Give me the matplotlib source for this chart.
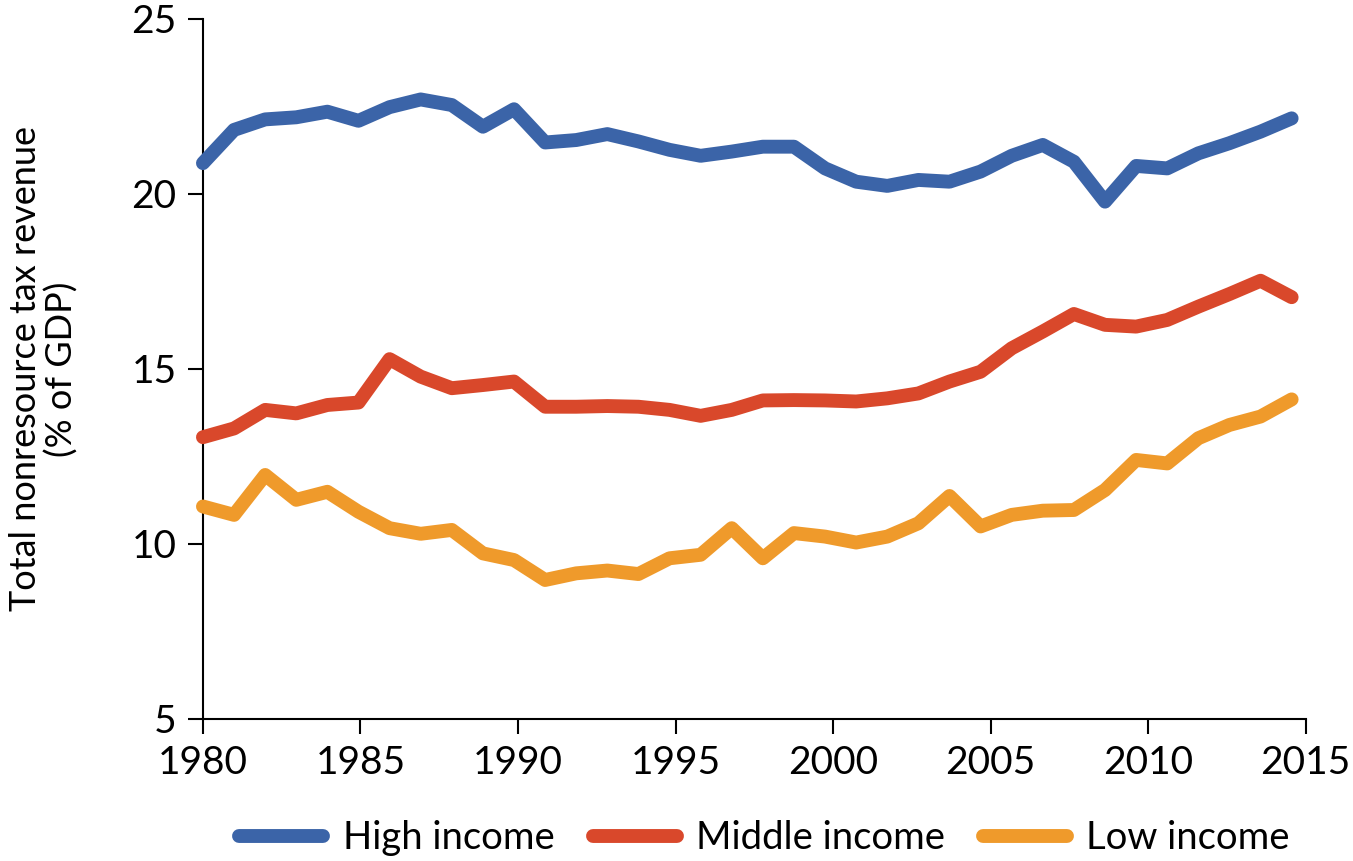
import matplotlib.pyplot as plt
import numpy as np

# Total nonresource tax revenue (% of GDP), 1980-2015
years = list(range(1980, 2016))
high_income = [20.88, 21.83, 22.13, 22.19, 22.35, 22.09, 22.48, 22.70, 22.54, 21.92,
               22.42, 21.47, 21.54, 21.71, 21.50, 21.26, 21.09, 21.21, 21.35, 21.35,
               20.73, 20.35, 20.23, 20.40, 20.35, 20.64, 21.09, 21.40, 20.92, 19.78,
               20.80, 20.73, 21.16, 21.45, 21.78, 22.16]
middle_income = [13.05, 13.30, 13.83, 13.73, 13.97, 14.04, 15.28, 14.78, 14.45, 14.54,
                 14.64, 13.92, 13.92, 13.94, 13.92, 13.83, 13.66, 13.83, 14.10, 14.11,
                 14.10, 14.07, 14.16, 14.30, 14.64, 14.92, 15.59, 16.07, 16.57, 16.26,
                 16.21, 16.40, 16.78, 17.14, 17.52, 17.05]
low_income = [11.07, 10.83, 11.97, 11.26, 11.49, 10.92, 10.45, 10.29, 10.40, 9.73,
              9.54, 8.97, 9.16, 9.24, 9.14, 9.59, 9.69, 10.45, 9.59, 10.31,
              10.21, 10.04, 10.21, 10.59, 11.37, 10.50, 10.83, 10.95, 10.97, 11.54,
              12.40, 12.30, 13.02, 13.40, 13.64, 14.13]

series = [('High income', high_income, '#3b64a8'),
          ('Middle income', middle_income, '#d9482b'),
          ('Low income', low_income, '#ef9a2b')]

plt.rcParams['font.family'] = ['Lato', 'DejaVu Sans']

fig = plt.figure(figsize=(13.53, 8.61), dpi=100)
ax = fig.add_axes([0.150, 0.165, 0.815, 0.813])

# year axis (ticks and labels)
ax.set_xlim(1980, 2015)
ax.set_ylim(5, 25)
ax.set_xticks(range(1980, 2016, 5))
ax.set_yticks(range(5, 26, 5))
ax.tick_params(axis='both', labelsize=28, length=11, width=1.5, direction='out', pad=8)
for side in ['top', 'right']:
    ax.spines[side].set_visible(False)
for side in ['left', 'bottom']:
    ax.spines[side].set_linewidth(1.5)
ax.set_ylabel('Total nonresource tax revenue\n(% of GDP)', fontsize=26, linespacing=1.1,
              labelpad=38)

# data are drawn on a category axis (one slot per year) over the year axis
ax_data = ax.twiny()
ax_data.set_xlim(0, 35.45)
ax_data.axis('off')
idx = np.arange(len(years))
handles = []
for name, vals, col in series:
    ln, = ax_data.plot(idx, vals, color=col, lw=10, solid_capstyle='round',
                       solid_joinstyle='round', label=name, clip_on=False)
    handles.append(ln)

fig.legend(handles=handles, loc='lower center', bbox_to_anchor=(0.565, -0.034), ncol=3,
           frameon=False, fontsize=27.5, handlelength=2.2, columnspacing=1.0,
           handletextpad=0.5)

fig.savefig('out.png', dpi=100)
